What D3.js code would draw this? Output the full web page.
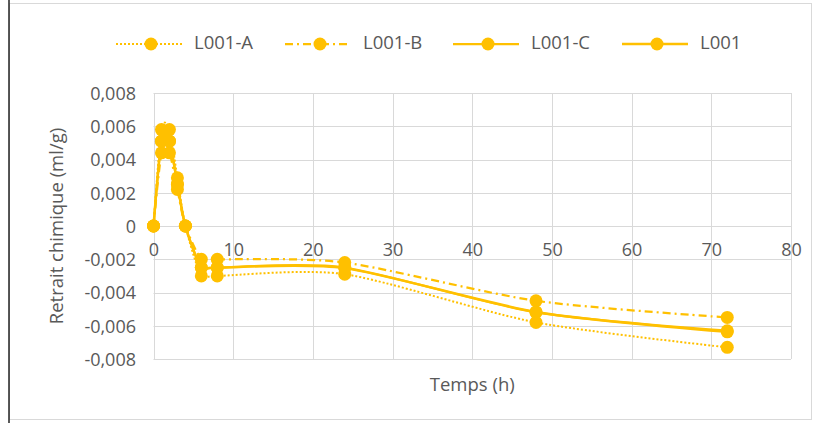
<!DOCTYPE html>
<html>
<head>
<meta charset="utf-8">
<script src="https://cdn.jsdelivr.net/npm/d3@7"></script>
<style>
  html, body { margin: 0; padding: 0; background: #fff; }
  svg text { font-family: "Open Sans", "Liberation Sans", sans-serif; fill: #595959; }
</style>
</head>
<body>
<svg id="chart" width="820" height="423"></svg>
<script>
// Measurement times (hours)
const times = [0, 1, 2, 3, 4, 6, 8, 24, 48, 72];

// Chemical shrinkage per specimen (ml/g)
const seriesA = [0, 0.0058, 0.0058, 0.0029, 0, -0.0030, -0.0030, -0.0029, -0.0058, -0.0073];
const seriesB = [0, 0.0044, 0.0044, 0.0022, 0, -0.0020, -0.0020, -0.0022, -0.0045, -0.0055];
const seriesC = [0, 0.0051, 0.0051, 0.0025, 0, -0.0025, -0.0025, -0.0025, -0.0052, -0.0063];
// Mean of the three specimens
const seriesMean = times.map((_, i) => (seriesA[i] + seriesB[i] + seriesC[i]) / 3);

const seriesNames = ["L001-A", "L001-B", "L001-C", "L001"];
const xTicks = [0, 10, 20, 30, 40, 50, 60, 70, 80];
const yTicks = [-0.008, -0.006, -0.004, -0.002, 0, 0.002, 0.004, 0.006, 0.008];
const xTitle = "Temps (h)";
const yTitle = "Retrait chimique (ml/g)";

const gold = "#FFC000";
const styles = [
  { dash: "2,2", width: 2 },
  { dash: "8,4,2,4", width: 2.25 },
  { dash: null, width: 2.25 },
  { dash: null, width: 2.5 }
];
const allSeries = [seriesA, seriesB, seriesC, seriesMean];

const svg = d3.select("#chart");

// chart frame
svg.append("rect")
  .attr("x", 9.5).attr("y", 3.5).attr("width", 802).attr("height", 416)
  .attr("fill", "none").attr("stroke", "#d9d9d9");
svg.append("line")
  .attr("x1", 9).attr("x2", 9).attr("y1", 0).attr("y2", 423)
  .attr("stroke", "#222").attr("stroke-width", 1.5);

const x = d3.scaleLinear().domain([0, 80]).range([153.5, 791]);
const y = d3.scaleLinear().domain([-0.008, 0.008]).range([359, 93]);

const fmt = v => v === 0 ? "0" : d3.format(".3f")(v).replace(".", ",").replace("−", "-");

// gridlines
const grid = svg.append("g").attr("stroke", "#d9d9d9").attr("stroke-width", 1);
grid.selectAll("line.h").data(yTicks).join("line")
  .attr("x1", x(0)).attr("x2", x(80))
  .attr("y1", d => Math.round(y(d)) + 0.5).attr("y2", d => Math.round(y(d)) + 0.5);
grid.selectAll("line.v").data(xTicks).join("line")
  .attr("y1", y(0.008)).attr("y2", y(-0.008))
  .attr("x1", d => Math.round(x(d)) + 0.5).attr("x2", d => Math.round(x(d)) + 0.5);

// y axis labels
const yAxis = d3.axisLeft(y).tickValues(yTicks).tickFormat(fmt).tickSize(0).tickPadding(0);
const gy = svg.append("g").attr("transform", `translate(${136},0)`).call(yAxis);
gy.select(".domain").remove();
gy.selectAll("text").style("font-size", "18px").attr("fill", "#595959").attr("dy", "0.35em");

// x axis labels along the zero line
const xAxis = d3.axisBottom(x).tickValues(xTicks).tickFormat(d3.format("d")).tickSize(0).tickPadding(0);
const gx = svg.append("g").attr("transform", `translate(0,${y(0) + 25})`).call(xAxis);
gx.select(".domain").remove();
gx.selectAll("text").style("font-size", "18px").attr("fill", "#595959").attr("dy", "0").attr("y", 0)
  .attr("dominant-baseline", "middle");

// axis titles
svg.append("text").attr("x", (x(0) + x(80)) / 2).attr("y", 386)
  .attr("text-anchor", "middle").attr("dominant-baseline", "middle")
  .style("font-size", "18.5px").text(xTitle);
svg.append("text")
  .attr("transform", `translate(58,${(y(0.008) + y(-0.008)) / 2}) rotate(-90)`)
  .attr("text-anchor", "middle").attr("dominant-baseline", "middle")
  .style("font-size", "18.5px").text(yTitle);

// series lines and markers (smoothed)
const line = d3.line()
  .x((d, i) => x(times[i]))
  .y(d => y(d))
  .curve(d3.curveCardinal.tension(0.25));

allSeries.forEach((vals, s) => {
  const g = svg.append("g");
  g.append("path").datum(vals)
    .attr("d", line)
    .attr("fill", "none")
    .attr("stroke", gold)
    .attr("stroke-width", styles[s].width)
    .attr("stroke-dasharray", styles[s].dash);
  g.selectAll("circle").data(vals).join("circle")
    .attr("cx", (d, i) => x(times[i]))
    .attr("cy", d => y(d))
    .attr("r", 6.5)
    .attr("fill", gold);
});

// legend
const legendX = [151, 320, 488, 657];
const legendY = 44;
const leg = svg.append("g");
seriesNames.forEach((name, s) => {
  const cx = legendX[s];
  leg.append("line")
    .attr("x1", cx - 35).attr("x2", cx + 31)
    .attr("y1", legendY).attr("y2", legendY)
    .attr("stroke", gold)
    .attr("stroke-width", styles[s].width)
    .attr("stroke-dasharray", styles[s].dash);
  leg.append("circle").attr("cx", cx).attr("cy", legendY).attr("r", 6.5).attr("fill", gold);
  leg.append("text").attr("x", cx + 43).attr("y", legendY)
    .attr("dominant-baseline", "middle")
    .style("font-size", "18.5px").text(name);
});
</script>
</body>
</html>
